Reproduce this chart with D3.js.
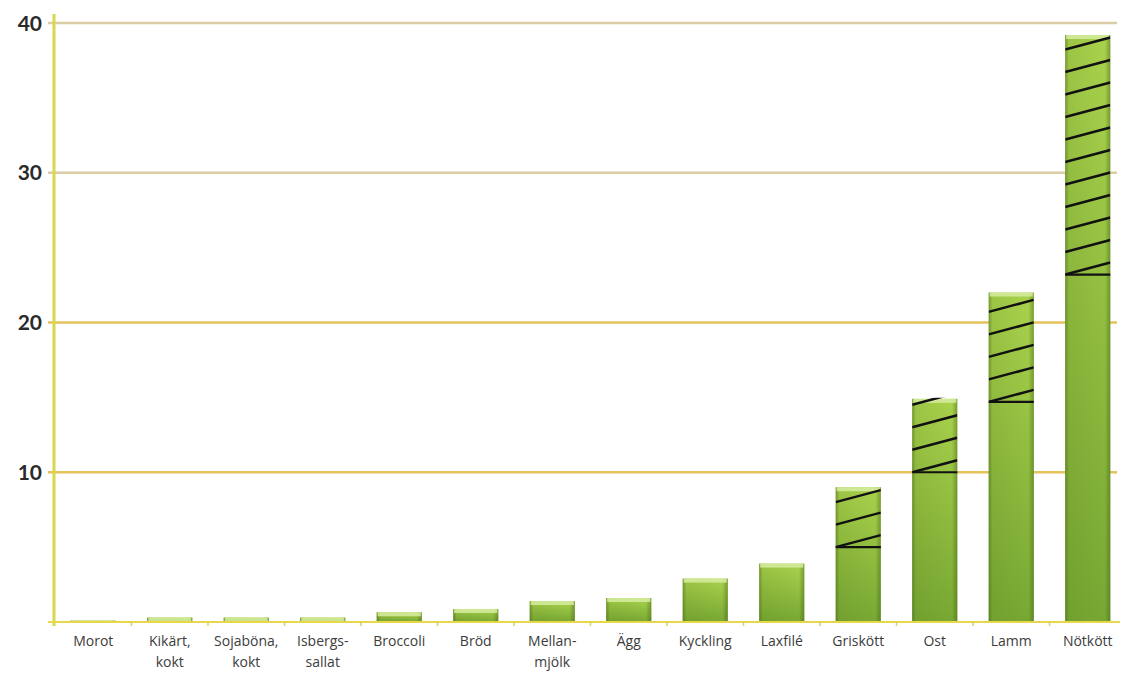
<!DOCTYPE html>
<html><head><meta charset="utf-8">
<script src="https://cdn.jsdelivr.net/npm/d3@7"></script>
<style>html,body{margin:0;padding:0;background:#fff;}svg{display:block;}</style>
</head><body><svg id="c" width="1125" height="673"></svg>
<script>
const categories = ["Morot","Kikärt, kokt","Sojaböna, kokt","Isbergs- sallat","Broccoli","Bröd","Mellan- mjölk","Ägg","Kyckling","Laxfilé","Griskött","Ost","Lamm","Nötkött"];
const categoryLabels = [["Morot"],["Kikärt,","kokt"],["Sojaböna,","kokt"],["Isbergs-","sallat"],["Broccoli"],["Bröd"],["Mellan-","mjölk"],["Ägg"],["Kyckling"],["Laxfilé"],["Griskött"],["Ost"],["Lamm"],["Nötkött"]];
const lowValues  = [0.1,0.3,0.3,0.3,0.65,0.87,1.4,1.6,2.9,3.9,5.0,10.0,14.7,23.2];
const highValues = [0.1,0.3,0.3,0.3,0.65,0.87,1.4,1.6,2.9,3.9,9.0,14.9,22.0,39.2];
const yTicks = [10,20,30,40];

const svg = d3.select("#c");
const x = d3.scaleBand().domain(categories).range([55,1126]).paddingInner(0.41).paddingOuter(0.205);
const y = d3.scaleLinear().domain([0,40]).range([622,23]);

const defs = svg.append("defs");
const g1 = defs.append("linearGradient").attr("id","gv").attr("x1",0).attr("y1",0).attr("x2",0).attr("y2",1);
g1.append("stop").attr("offset","0%").attr("stop-color","#a9d24c");
g1.append("stop").attr("offset","100%").attr("stop-color","#78a833");
const g2 = defs.append("linearGradient").attr("id","gh").attr("x1",0).attr("y1",0).attr("x2",1).attr("y2",0);
g2.append("stop").attr("offset","0%").attr("stop-color","#3c5a10").attr("stop-opacity",0.5);
g2.append("stop").attr("offset","8%").attr("stop-color","#3c5a10").attr("stop-opacity",0.1);
g2.append("stop").attr("offset","88%").attr("stop-color","#3c5a10").attr("stop-opacity",0.0);
g2.append("stop").attr("offset","100%").attr("stop-color","#3c5a10").attr("stop-opacity",0.45);

// gridlines
const gridColor = v => v >= 30 ? "#dccca6" : "#e5c25a";
svg.append("g").selectAll("line").data(yTicks).join("line")
  .attr("x1",48).attr("x2",1117).attr("y1",d=>y(d)).attr("y2",d=>y(d))
  .attr("stroke",gridColor).attr("stroke-width",2.5);

// y tick labels
svg.append("g").selectAll("text").data(yTicks).join("text")
  .attr("x",42).attr("y",d=>y(d)).attr("dy","0.36em").attr("text-anchor","end")
  .attr("font-family","Lato, 'Open Sans', sans-serif").attr("font-weight",700).attr("font-size",21)
  .attr("fill","#2a2a2a").text(d=>d);

// bars
const data = categories.map((c,i)=>({c, lo: lowValues[i], hi: highValues[i], i}));
const bars = svg.append("g");
data.forEach(d=>{
  const x0 = x(d.c), w = x.bandwidth(), yt = y(d.hi), yb = y(0);
  const h = Math.max(yb - yt, 0.5);
  const gb = bars.append("g");
  gb.append("rect").attr("x",x0).attr("y",yb-h).attr("width",w).attr("height",h).attr("fill","url(#gv)");
  gb.append("rect").attr("x",x0).attr("y",yb-h).attr("width",w).attr("height",h).attr("fill","url(#gh)");
  gb.append("rect").attr("x",x0+1).attr("y",yb-h).attr("width",w-2).attr("height",Math.min(4,h)).attr("fill","#d6eca0").attr("opacity",0.85);
  if (d.hi > d.lo) {
    const ylo = y(d.lo);
    const cid = "clip"+d.i;
    defs.append("clipPath").attr("id",cid).append("rect").attr("x",x0).attr("y",yt-1).attr("width",w).attr("height",ylo-yt+2);
    const hg = gb.append("g").attr("clip-path",`url(#${cid})`);
    const spacing = 22.5, rise = 12;
    for (let k=0; ylo - k*spacing > yt - rise; k++) {
      const yy = ylo - k*spacing;
      hg.append("line").attr("x1",x0).attr("x2",x0+w).attr("y1",yy).attr("y2",yy-rise)
        .attr("stroke","#111").attr("stroke-width",2.5);
    }
    gb.append("line").attr("x1",x0).attr("x2",x0+w).attr("y1",ylo).attr("y2",ylo).attr("stroke","#111").attr("stroke-width",2.2);
  }
});

// y axis line
svg.append("line").attr("x1",54).attr("x2",54).attr("y1",14).attr("y2",626).attr("stroke","#d6d94c").attr("stroke-width",3);
// baseline
svg.append("line").attr("x1",48).attr("x2",1120).attr("y1",y(0)).attr("y2",y(0)).attr("stroke","#e6d84a").attr("stroke-width",2);
// small tick marks at band boundaries
const bounds = categories.map(c=>x(c) - x.step()*x.paddingInner()/2).concat([1126]);
svg.append("g").selectAll("line").data(bounds.slice(1,-1)).join("line")
  .attr("x1",d=>d).attr("x2",d=>d).attr("y1",y(0)).attr("y2",y(0)+4).attr("stroke","#d8d060").attr("stroke-width",1.5);

// x labels
const xl = svg.append("g");
data.forEach((d,i)=>{
  const t = xl.append("text").attr("x",x(d.c)+x.bandwidth()/2).attr("text-anchor","middle")
    .attr("font-family","'Open Sans', Lato, sans-serif").attr("font-size",14).attr("fill","#3c3c3c");
  categoryLabels[i].forEach((ln,j)=>{
    t.append("tspan").attr("x",x(d.c)+x.bandwidth()/2).attr("y",646 + j*21).text(ln);
  });
});
</script></body></html>
